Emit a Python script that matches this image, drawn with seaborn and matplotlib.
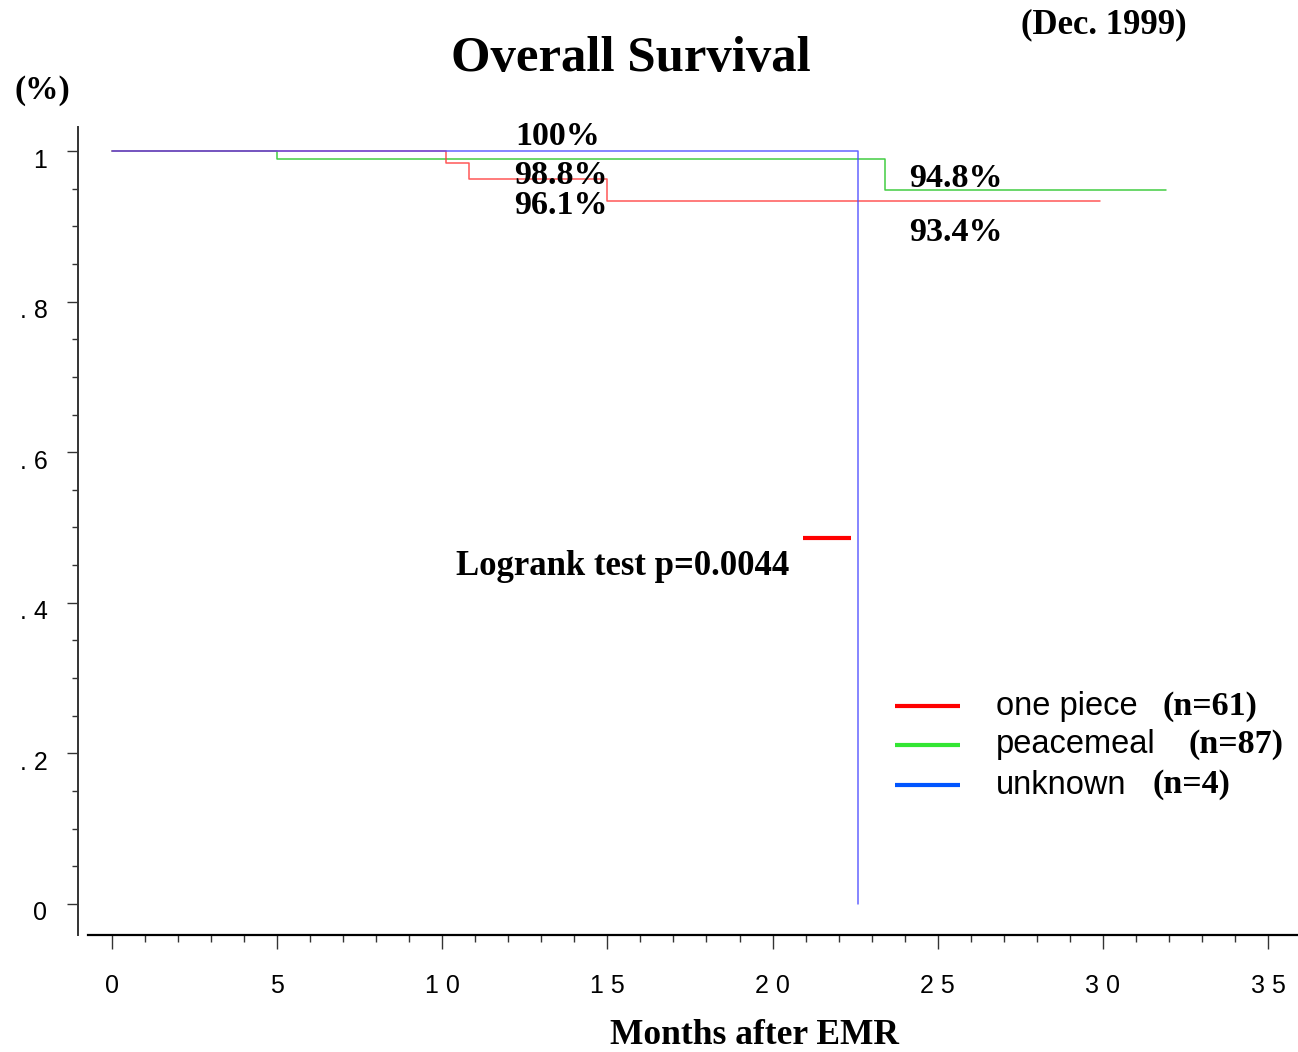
import matplotlib
matplotlib.use("Agg")
import pandas as pd
import matplotlib.pyplot as plt
import matplotlib.transforms as mtransforms
from matplotlib.lines import Line2D
from matplotlib.ticker import MultipleLocator, FixedLocator
import seaborn as sns

# --- curve data ---
groups = ["one piece", "peacemeal", "unknown"]
group_n = ["(n=61)", "(n=87)", "(n=4)"]
one_piece_months = [0, 10.1, 10.8, 15.0, 29.9]
one_piece_surv = [1.0, 0.984, 0.963, 0.934, 0.934]
peacemeal_months = [0, 5.0, 23.4, 31.9]
peacemeal_surv = [1.0, 0.989, 0.948, 0.948]
unknown_months = [0, 22.6]
unknown_surv = [1.0, 0.0]

pct_labels = ["100%", "98.8%", "96.1%", "94.8%", "93.4%"]
pct_x = [13.5, 13.6, 13.6, 25.55, 25.55]
pct_y = [1.019, 0.968, 0.927, 0.963, 0.892]

xtick_vals = [0, 5, 10, 15, 20, 25, 30, 35]
xtick_labels = ["0", "5", "1 0", "1 5", "2 0", "2 5", "3 0", "3 5"]
ytick_vals = [0, 0.2, 0.4, 0.6, 0.8, 1.0]
ytick_labels = ["0", ". 2", ". 4", ". 6", ". 8", "1"]

curve_colors = {"one piece": "#ff3b3b", "peacemeal": "#22c422", "unknown": "#4a4aff"}
legend_colors = ["#ff0000", "#33e633", "#0055ff"]

W, H = 1298, 1052
SERIF = "Liberation Serif"
SANS = "Liberation Sans"

rows = []
for g, months, surv in zip(groups,
                           [one_piece_months, peacemeal_months, unknown_months],
                           [one_piece_surv, peacemeal_surv, unknown_surv]):
    for m, s in zip(months, surv):
        rows.append({"month": m, "surv": s, "group": g})
df = pd.DataFrame(rows)

sns.set_style("white")
plt.rcParams["font.family"] = [SANS, "DejaVu Sans"]
plt.rcParams["text.color"] = "black"
plt.rcParams["xtick.color"] = "black"
plt.rcParams["ytick.color"] = "black"

fig = plt.figure(figsize=(W / 100, H / 100), dpi=100)
ax = fig.add_axes([78 / W, 1 - 935 / H, (W - 78) / W, (935 - 127) / H])

sns.lineplot(data=df, x="month", y="surv", hue="group",
             hue_order=["peacemeal", "one piece", "unknown"],
             palette=curve_colors, drawstyle="steps-post",
             estimator=None, sort=False, linewidth=1.1, alpha=0.85,
             legend=False, ax=ax)

ax.set_xlim(-1.03, 35.91)
ax.set_ylim(-0.0412, 1.0319)
ax.set_xlabel("")
ax.set_ylabel("")

for side in ["top", "right"]:
    ax.spines[side].set_visible(False)
ax.spines["left"].set_color("#333333")
ax.spines["left"].set_linewidth(1.4)
ax.spines["bottom"].set_color("black")
ax.spines["bottom"].set_linewidth(1.6)
ax.spines["bottom"].set_bounds(-0.73, 35.91)

ax.set_xticks(xtick_vals)
ax.set_xticklabels(xtick_labels)
ax.xaxis.set_minor_locator(FixedLocator(list(range(0, 36))))
ax.set_yticks(ytick_vals)
ax.set_yticklabels(ytick_labels)
ax.yaxis.set_minor_locator(MultipleLocator(0.05))

ax.tick_params(axis="x", which="major", direction="out", length=10, width=1,
               color="#333333", pad=18, labelsize=18)
ax.tick_params(axis="x", which="minor", direction="out", length=5, width=1,
               color="#333333")
ax.tick_params(axis="y", which="major", direction="out", length=8, width=1,
               color="#333333", pad=14, labelsize=18)
ax.tick_params(axis="y", which="minor", direction="out", length=4, width=1,
               color="#333333")
ax.tick_params(bottom=True, left=True, which="both")

# y tick labels sit a little under their ticks in the original
shift = mtransforms.ScaledTranslation(0, -0.07, fig.dpi_scale_trans)
for lab in ax.get_yticklabels():
    lab.set_transform(lab.get_transform() + shift)

# percentage annotations
for txt, x, y in zip(pct_labels, pct_x, pct_y):
    ax.text(x, y, txt, ha="center", va="center", fontsize=24.5,
            fontweight="bold", family=SERIF)

ax.text(15.47, 0.448, "Logrank test p=0.0044", ha="center", va="center",
        fontsize=25, fontweight="bold", family=SERIF)

# titles / labels
fig.text(631 / W, 1 - 59 / H, "Overall Survival", ha="center", va="center",
         fontsize=36.5, fontweight="bold", family=SERIF)
fig.text(1104 / W, 1 - 25 / H, "(Dec. 1999)", ha="center", va="center",
         fontsize=25, fontweight="bold", family=SERIF)
fig.text(42 / W, 1 - 90 / H, "(%)", ha="center", va="center",
         fontsize=24, fontweight="bold", family=SERIF)
fig.text(755 / W, 1 - 1035 / H, "Months after EMR", ha="center", va="center",
         fontsize=25.5, fontweight="bold", family=SERIF)

# stray red mark next to the logrank text
fig.add_artist(Line2D([803 / W, 851 / W], [1 - 538 / H] * 2,
                      color="#ff0000", linewidth=3, solid_capstyle="butt"))

# hand-made legend (mixed fonts)
leg_y = [706, 745, 785]
n_x = [1163, 1188, 1153]
for g, n, c, py, nx in zip(groups, group_n, legend_colors, leg_y, n_x):
    fy = 1 - py / H
    fig.add_artist(Line2D([895 / W, 960 / W], [fy, fy], color=c,
                          linewidth=3, solid_capstyle="butt"))
    fig.text(996 / W, fy, g, ha="left", va="center", fontsize=23.5,
             family=SANS)
    fig.text(nx / W, fy, n, ha="left", va="center", fontsize=24.5,
             fontweight="bold", family=SERIF)

fig.savefig("out.png", dpi=100)
